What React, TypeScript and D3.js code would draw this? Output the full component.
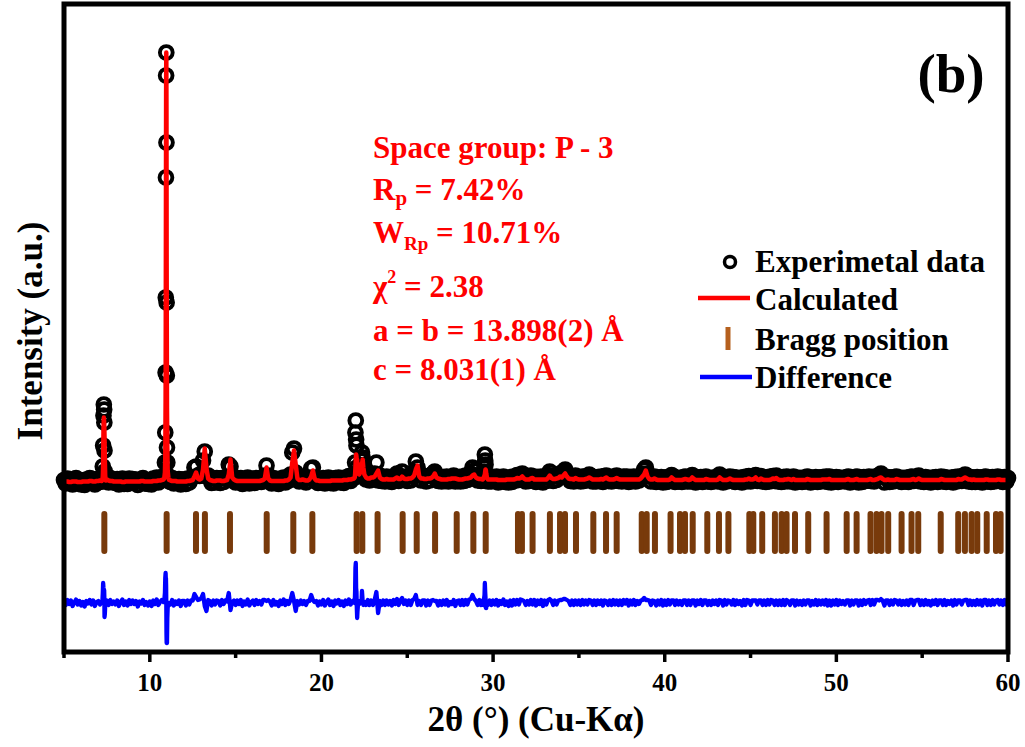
import * as d3 from "d3";

// powder pattern: coarse scan (5° → 60°, 0.1° step), intensities in a.u.
const start2Theta = 5;
const step2Theta = 0.1;

const obsBase = [
  5, -2, 8, -1, 6, -4, 3, 9, -2, 5,
  -4, 4, -5, 6, 1, 9, 0, 7, -4, 5,
  7, 1, 0, 0, 0, 11, 0, 9, 1, 5,
  -1, 7, -4, 4, 8, -3, 5, -3, 8, 0,
  7, 0, 6, -5, 5, 2, 9, -2, 4, -3,
  5, -4, 8, 1, 10, 0, 6, 11, 0, 0,
  0, 0, 1, 9, -2, 6, 0, 7, -4, 6,
  6, -3, 8, 0, 9, 10, 30, 32, 14, 13,
  18, 44, 62, 12, 14, 9, -1, 8, 0, 9,
  8, -1, 9, 1, 9, 8, 36, 32, 12, 11,
  0, 8, 1, 9, -3, 6, 0, 10, -2, 5,
  8, -1, 9, 1, 7, 1, 11, 14, 34, 14,
  7, -2, 9, 0, 5, -3, 8, 1, 10, 0,
  8, 4, 16, 60, 68, 20, 12, 2, 10, 4,
  9, 0, 8, 10, 28, 30, 10, 8, -1, 6,
  0, 9, -2, 5, 10, -1, 7, -2, 9, 3,
  10, 0, 7, -1, 10, 3, 13, 3, 11, 0,
  0, 0, 0, 0, 0, 0, 0, 14, 4, 15,
  6, 18, 40, 4, 14, 3, 11, 2, 12, 3,
  10, 1, 12, 6, 18, 3, 12, 22, 6, 12,
  3, 13, 4, 16, 22, 42, 30, 16, 4, 13,
  12, 2, 13, 4, 14, 18, 22, 14, 3, 11,
  2, 11, 3, 12, 2, 9, 6, 14, 2, 11,
  11, 2, 12, 3, 14, 5, 16, 18, 30, 24,
  14, 4, 13, 3, 0, 0, 0, 0, 11, 2,
  11, 3, 12, 0, 9, 3, 12, 1, 9, 0,
  11, 1, 12, 4, 15, 5, 16, 18, 12, 2,
  10, 3, 14, 6, 12, 1, 11, 4, 12, 0,
  11, 3, 15, 22, 14, 3, 12, 5, 14, 18,
  16, 22, 26, 18, 12, 3, 12, 2, 14, 4,
  11, 2, 12, 3, 12, 5, 16, 13, 2, 11,
  2, 11, 4, 12, 1, 13, 14, 3, 11, 2,
  12, 4, 14, 3, 11, 2, 12, 5, 12, 1,
  11, 3, 12, 2, 10, 4, 13, 18, 26, 30,
  18, 12, 2, 11, 12, 1, 10, 2, 11, 0,
  10, 1, 11, 3, 15, 12, 1, 10, 2, 9,
  1, 11, 12, 2, 10, 2, 15, 12, 0, 10,
  3, 11, 1, 10, 12, 2, 9, 1, 10, 3,
  10, 2, 16, 12, 0, 11, 2, 11, 12, 3,
  11, 1, 10, 3, 9, 0, 11, 2, 12, 13,
  2, 11, 12, 15, 3, 10, 13, 2, 10, 1,
  11, 2, 12, 13, 3, 14, 2, 10, 1, 11,
  2, 12, 11, 2, 10, 12, 0, 10, 2, 9,
  1, 10, 2, 12, 11, 0, 9, 2, 11, 1,
  10, 2, 11, 3, 12, 1, 12, 0, 10, 2,
  11, 1, 10, 3, 9, 2, 11, 12, 0, 10,
  2, 11, 12, 0, 10, 1, 11, 3, 10, 12,
  3, 11, 2, 12, 13, 14, 18, 12, 0, 10,
  11, 1, 10, 2, 11, 12, 3, 10, 1, 9,
  2, 10, 1, 11, 12, 3, 10, 12, 14, 2,
  10, 1, 11, 2, 9, 0, 10, 3, 11, 1,
  10, 12, 2, 11, 1, 9, 3, 10, 0, 11,
  2, 12, 11, 3, 13, 16, 14, 2, 11, 1,
  10, 1, 11, 2, 10, 0, 11, 12, 2, 10,
  1, 11, 2, 10, 12, 3, 10, 1, 11, 2,
  9,
];

const calcBase = [
  2, 2, 2, 1, 1, 2, 2, 2, 1, 1,
  1, 2, 2, 2, 2, 3, 3, 2, 2, 3,
  3, 4, 6, 60, 14, 6, 4, 3, 3, 2,
  2, 2, 2, 2, 1, 1, 2, 2, 2, 2,
  2, 2, 2, 2, 2, 3, 3, 2, 2, 2,
  2, 2, 3, 3, 3, 4, 4, 5, 6, 50,
  150, 5, 4, 3, 3, 3, 2, 2, 2, 2,
  2, 2, 3, 3, 4, 5, 12, 20, 8, 6,
  8, 26, 68, 28, 8, 5, 4, 3, 3, 4,
  4, 4, 3, 3, 4, 5, 16, 46, 10, 6,
  4, 3, 3, 3, 3, 3, 3, 3, 3, 3,
  3, 3, 3, 3, 3, 4, 5, 8, 30, 8,
  4, 3, 3, 3, 3, 3, 3, 3, 3, 4,
  4, 6, 10, 40, 64, 36, 8, 5, 5, 6,
  5, 4, 4, 6, 12, 24, 8, 4, 4, 3,
  3, 3, 3, 3, 3, 3, 4, 4, 4, 4,
  4, 4, 4, 5, 5, 5, 6, 6, 7, 8,
  44, 30, 16, 28, 46, 16, 10, 8, 8, 10,
  10, 12, 18, 24, 10, 7, 6, 6, 7, 6,
  6, 6, 6, 8, 10, 7, 7, 12, 8, 7,
  7, 8, 8, 10, 14, 26, 34, 12, 8, 8,
  7, 7, 8, 8, 9, 12, 18, 10, 8, 7,
  6, 6, 6, 6, 7, 7, 8, 8, 8, 7,
  6, 6, 6, 7, 8, 8, 9, 10, 14, 16,
  10, 8, 7, 7, 6, 14, 26, 6, 6, 6,
  6, 6, 6, 5, 5, 5, 5, 5, 6, 6,
  6, 6, 6, 7, 9, 8, 9, 12, 8, 6,
  6, 6, 8, 9, 6, 6, 6, 6, 6, 6,
  6, 6, 9, 14, 9, 7, 7, 8, 9, 12,
  10, 14, 18, 12, 8, 7, 7, 6, 9, 7,
  6, 6, 6, 6, 7, 8, 10, 8, 6, 6,
  6, 6, 6, 7, 6, 8, 10, 7, 6, 6,
  6, 7, 9, 7, 6, 6, 6, 6, 6, 6,
  6, 6, 6, 6, 6, 6, 8, 12, 16, 24,
  12, 7, 6, 6, 8, 6, 5, 5, 5, 5,
  5, 5, 5, 6, 10, 7, 5, 5, 5, 5,
  5, 6, 7, 6, 5, 6, 10, 7, 5, 5,
  5, 5, 5, 5, 7, 6, 5, 5, 5, 5,
  5, 6, 10, 7, 5, 5, 5, 6, 8, 6,
  5, 5, 5, 5, 5, 5, 5, 6, 6, 8,
  6, 6, 7, 10, 6, 5, 8, 6, 5, 5,
  5, 5, 6, 8, 7, 9, 6, 5, 5, 5,
  6, 6, 7, 6, 5, 7, 5, 5, 5, 5,
  5, 5, 5, 7, 6, 5, 5, 5, 5, 5,
  5, 5, 6, 6, 6, 6, 7, 5, 5, 5,
  5, 5, 5, 5, 5, 5, 6, 7, 5, 5,
  5, 6, 7, 5, 5, 5, 5, 5, 5, 6,
  7, 5, 5, 6, 7, 9, 10, 7, 5, 5,
  6, 5, 5, 5, 5, 7, 6, 5, 5, 5,
  5, 5, 5, 5, 6, 7, 5, 6, 8, 6,
  5, 5, 5, 5, 5, 5, 5, 5, 5, 5,
  5, 7, 6, 5, 5, 5, 5, 5, 5, 5,
  5, 7, 6, 6, 8, 10, 8, 6, 6, 5,
  6, 5, 5, 5, 5, 5, 5, 6, 6, 5,
  5, 5, 5, 5, 6, 6, 5, 5, 5, 5,
  5,
];

// fine scans over the strong reflections: [2θ, Yobs, Ycalc]
const scan7 = [
  [7.2, 6, 3], [7.22, 8, 4], [7.24, 12, 6], [7.26, 32, 12], [7.28, 74, 34],
  [7.3, 134, 104], [7.32, 156, 130], [7.34, 146, 120], [7.35, 120, 108],
  [7.36, 64, 92], [7.38, 22, 44], [7.4, 8, 14], [7.42, 9, 6], [7.44, 2, 4],
];
const scan11 = [
  [10.8, 8, 6], [10.84, 12, 8], [10.88, 40, 20], [10.9, 100, 50], [10.92, 220, 160],
  [10.93, 370, 320], [10.94, 610, 560], [10.95, 814, 780], [10.96, 860, 860],
  [10.97, 680, 740], [10.98, 360, 440], [10.99, 214, 290], [11.0, 70, 150],
  [11.02, 40, 70], [11.04, 14, 24], [11.08, 10, 10], [11.12, 3, 5],
];
const scan22 = [
  [21.9, 14, 8], [21.94, 10, 10], [21.96, 40, 16], [21.98, 100, 30], [22.0, 124, 44],
  [22.02, 86, 56], [22.04, 74, 52], [22.06, 30, 40], [22.08, 16, 46], [22.1, 14, 30],
  [22.14, 20, 18], [22.2, 14, 16], [22.26, 24, 20], [22.3, 32, 28], [22.34, 44, 38],
  [22.36, 60, 36], [22.4, 50, 46], [22.44, 26, 30], [22.5, 18, 16], [22.6, 6, 10],
];
const scan29 = [
  [29.4, 11, 6], [29.44, 4, 8], [29.48, 22, 12], [29.5, 30, 14], [29.52, 56, 16],
  [29.54, 44, 22], [29.56, 36, 26], [29.58, 14, 24], [29.6, 8, 18], [29.64, 13, 10],
  [29.7, 2, 6],
];
const fineScans = [scan7, scan11, scan22, scan29];

const braggPositions = [
  7.35, 10.98, 12.69, 13.21, 14.67, 16.81, 18.36, 19.47, 22.05, 22.38, 23.27, 24.73,
  25.55, 26.62, 27.88, 28.85, 29.57, 31.45, 31.68, 32.3, 33.31, 33.9, 34.19, 34.83,
  35.84, 36.58, 37.2, 38.66, 38.95, 39.43, 40.34, 40.89, 41.18, 41.63, 42.48, 43.16,
  43.71, 44.93, 45.16, 45.68, 46.42, 46.81, 47.1, 47.59, 48.36, 49.43, 50.6, 51.18,
  51.99, 52.34, 52.63, 53.02, 53.8, 54.38, 54.77, 56.08, 57.1, 57.49, 57.88, 58.21,
  58.76, 59.3, 59.57,
];

const majorTicks = [10, 20, 30, 40, 50, 60];
const minorTicks = [5, 15, 25, 35, 45, 55];
const legendLabels = ["Experimetal data", "Calculated", "Bragg position", "Difference"];

const W = 1025;
const H = 747;
const frame = { left: 64, right: 1008, top: 4, bottom: 652 };
const diffOffset = -241;
const font = "'Liberation Serif', 'Times New Roman', serif";

type Row = [number, number, number];

function buildRows(): Row[] {
  const rows: Row[] = [];
  obsBase.forEach((o, i) => {
    const t = +(start2Theta + i * step2Theta).toFixed(2);
    const inScan = fineScans.some((s) => t >= s[0][0] - 1e-6 && t <= s[s.length - 1][0] + 1e-6);
    if (!inScan) rows.push([t, o, calcBase[i]]);
  });
  fineScans.forEach((s) => s.forEach((r) => rows.push([r[0], r[1], r[2]])));
  return rows.sort((a, b) => a[0] - b[0]);
}

export default function App() {
  const rows = buildRows();
  const x = d3.scaleLinear().domain([5, 60]).range([frame.left, frame.right]);
  const y = d3.scaleLinear().domain([-339, 957]).range([frame.bottom, frame.top]);

  const calcLine = d3.line<Row>().x((d) => x(d[0])).y((d) => y(d[2]));
  const diffLine = d3.line<Row>().x((d) => x(d[0])).y((d) => y(d[1] - d[2] + diffOffset));

  const red = "#ff0000";
  const tx = 373;

  return (
    <svg
      width={W}
      height={H}
      viewBox={`0 0 ${W} ${H}`}
      style={{ position: "absolute", left: 0, top: 0, background: "#fff" }}
      fontFamily={font}
      fontWeight="bold"
    >
      <rect width={W} height={H} fill="#fff" />

      {/* observed points */}
      <g fill="none" stroke="#000" strokeWidth={3.9}>
        {rows.map((d, i) => (
          <circle key={i} cx={x(d[0])} cy={y(d[1])} r={6.4} />
        ))}
      </g>

      {/* calculated */}
      <path d={calcLine(rows) ?? ""} fill="none" stroke={red} strokeWidth={4.5} strokeLinejoin="round" />

      {/* Bragg positions */}
      <g stroke="#783a0b" strokeWidth={6} strokeLinecap="round">
        {braggPositions.map((p) => (
          <line key={p} x1={x(p)} x2={x(p)} y1={y(-63)} y2={y(-137)} />
        ))}
      </g>

      {/* difference */}
      <path d={diffLine(rows) ?? ""} fill="none" stroke="#0000ff" strokeWidth={4.3} strokeLinejoin="round" />

      {/* frame */}
      <rect
        x={frame.left}
        y={frame.top}
        width={frame.right - frame.left}
        height={frame.bottom - frame.top}
        fill="none"
        stroke="#000"
        strokeWidth={5}
      />

      {/* x ticks */}
      <g stroke="#000" strokeWidth={3.5}>
        {majorTicks.map((t) => (
          <line key={`M${t}`} x1={x(t)} x2={x(t)} y1={frame.bottom} y2={frame.bottom + 10} />
        ))}
        {minorTicks.map((t) => (
          <line key={`m${t}`} x1={x(t)} x2={x(t)} y1={frame.bottom} y2={frame.bottom + 6} />
        ))}
      </g>
      {majorTicks.map((t) => (
        <text key={`l${t}`} x={x(t)} y={691} textAnchor="middle" fontSize={25} fill="#000">
          {t}
        </text>
      ))}

      <text x={(frame.left + frame.right) / 2} y={731} textAnchor="middle" fontSize={35} fill="#000">
        2θ (°) (Cu-Kα)
      </text>
      <text transform={`translate(42,331) rotate(-90)`} textAnchor="middle" fontSize={35} fill="#000">
        Intensity (a.u.)
      </text>

      <text x={951} y={92} textAnchor="middle" fontSize={55} fill="#000">
        (b)
      </text>

      {/* refinement info */}
      <g fill={red} fontSize={31}>
        <text x={tx} y={158}>Space group: P - 3</text>
        <text x={tx} y={200}>
          R<tspan fontSize={21} dy={5}>p</tspan>
          <tspan dy={-5}> = 7.42%</tspan>
        </text>
        <text x={tx} y={243}>
          W<tspan fontSize={19} dy={7}>Rp</tspan>
          <tspan dy={-7}> = 10.71%</tspan>
        </text>
        <text x={tx} y={297}>
          χ<tspan fontSize={18} dy={-14}>2</tspan>
          <tspan dy={14}> = 2.38</tspan>
        </text>
        <text x={tx} y={341}>a = b = 13.898(2) Å</text>
        <text x={tx} y={380}>c = 8.031(1) Å</text>
      </g>

      {/* legend */}
      <circle cx={730} cy={262} r={5.5} fill="none" stroke="#000" strokeWidth={3.5} />
      <line x1={698} x2={750} y1={298} y2={298} stroke={red} strokeWidth={4.5} />
      <line x1={728} x2={728} y1={327} y2={350} stroke="#b5601e" strokeWidth={5} />
      <line x1={700} x2={752} y1={377} y2={377} stroke="#0000ff" strokeWidth={4.5} />
      {legendLabels.map((l, i) => (
        <text key={l} x={755} y={[272, 310, 350, 388][i]} fontSize={31} fill="#000">
          {l}
        </text>
      ))}
    </svg>
  );
}
